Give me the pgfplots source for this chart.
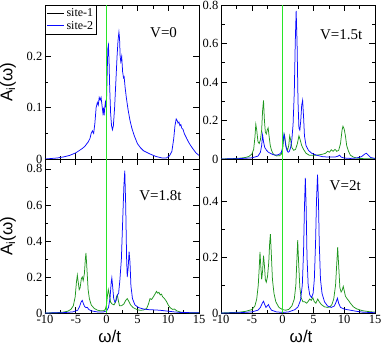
\documentclass[border=0pt]{standalone}
\usepackage{fontspec}
\setmainfont{Liberation Serif}
\setsansfont{Liberation Sans}
\usepackage{pgfplots}
\pgfplotsset{compat=1.18}
\definecolor{curvegreen}{RGB}{30,150,30}
\definecolor{curveblue}{RGB}{10,10,255}
\definecolor{zeroline}{RGB}{40,230,40}
\pgfplotsset{
  panel/.style={
    scale only axis, width=154pt, height=154pt,
    anchor=south west,
    xmin=-10, xmax=15, xtick={-10,-5,...,15}, minor x tick num=1,
    ymin=0, minor y tick num=1,
    tick align=inside,
    major tick length=6pt, minor tick length=3.5pt,
    axis line style={line width=0.7pt},
    every tick/.style={black, line width=0.6pt},
    ticklabel style={font=\fontsize{12.5}{12.5}\selectfont},
    xticklabel style={inner sep=2pt},
    yticklabel style={inner sep=2.5pt},
    /pgf/number format/assume math mode=true,
    label style={font=\sffamily\fontsize{17}{17}\selectfont},
    ylabel style={at={(axis description cs:-0.24,0.5)}, anchor=center},
    ylabel={A\textsubscript{i}(ω)},
  },
  grn/.style={curvegreen, line width=0.75pt},
  blu/.style={curveblue, line width=0.75pt},
  zl/.style={zeroline, line width=0.8pt},
}
\newcommand{\vtag}[3]{\node[anchor=east, font=\fontsize{15}{15}\selectfont] at (rel axis cs:#1,#2) {#3};}
\begin{document}
\begin{tikzpicture}
\path[use as bounding box] (0,0) rectangle (382pt,346pt);

% ---------- V = 0 ----------
\begin{axis}[panel, at={(45pt,187pt)}, ymax=0.3, ytick={0,0.1,0.2},
  xticklabels={},
  legend style={at={(0,1)}, anchor=north west, draw=black,
    font=\fontsize{12}{13}\selectfont, inner sep=1.5pt, row sep=-1pt,
    /tikz/every even column/.append style={column sep=4pt}},
  legend cell align=left]
\addlegendimage{black, line width=0.7pt}\addlegendentry{site-1}
\addlegendimage{blu}\addlegendentry{site-2}
\addplot[blu, forget plot] coordinates {
(-10,0) (-9,0.001) (-8,0.002) (-7,0.004) (-6,0.007) (-5,0.012) (-4.5,0.016)
(-4,0.02) (-3.5,0.025) (-3.2,0.03) (-3,0.033) (-2.7,0.04) (-2.5,0.05)
(-2.3,0.055) (-2.1,0.05) (-1.9,0.07) (-1.7,0.1) (-1.5,0.11) (-1.35,0.105)
(-1.2,0.12) (-1.05,0.115) (-0.9,0.12) (-0.75,0.105) (-0.6,0.09) (-0.5,0.1)
(-0.4,0.085) (-0.3,0.1) (-0.2,0.11) (-0.1,0.1) (0,0.12) (0.1,0.17) (0.2,0.215)
(0.3,0.222) (0.4,0.19) (0.5,0.14) (0.65,0.09) (0.8,0.065) (0.95,0.057)
(1.1,0.065) (1.3,0.1) (1.5,0.15) (1.7,0.2) (1.85,0.23) (2.0,0.247) (2.1,0.235)
(2.2,0.2) (2.3,0.19) (2.45,0.2) (2.6,0.17) (2.75,0.158) (2.85,0.16) (3.0,0.14)
(3.2,0.12) (3.5,0.095) (3.8,0.075) (4.1,0.06) (4.5,0.045) (5,0.03) (5.5,0.022)
(6,0.016) (7,0.01) (8,0.005) (9,0.002) (9.7,0.002) (10.2,0.006) (10.6,0.015)
(10.9,0.04) (11.1,0.065) (11.3,0.078) (11.45,0.075) (11.6,0.07) (11.75,0.072)
(11.9,0.065) (12.05,0.067) (12.2,0.06) (12.4,0.058) (12.6,0.05) (12.8,0.045)
(13.0,0.04) (13.3,0.033) (13.6,0.027) (14,0.02) (14.5,0.012) (15,0.007)};
\addplot[zl, forget plot] coordinates {(0,0) (0,1)};
\vtag{0.88}{0.82}{V=0}
\end{axis}

% ---------- V = 1.5t ----------
\begin{axis}[panel, at={(221pt,187pt)}, ymax=0.8, ytick={0,0.2,...,0.8},
  xticklabels={}, ylabel={}]
\addplot[grn] coordinates {
(-10,0) (-8,0.002) (-7,0.004) (-6,0.008) (-5.5,0.013) (-5,0.025) (-4.7,0.05)
(-4.5,0.11) (-4.35,0.18) (-4.2,0.15) (-4.0,0.09) (-3.8,0.08) (-3.6,0.1)
(-3.4,0.15) (-3.25,0.25) (-3.1,0.305) (-2.95,0.2) (-2.8,0.14) (-2.65,0.13)
(-2.5,0.15) (-2.35,0.162) (-2.2,0.12) (-2.0,0.07) (-1.8,0.045) (-1.5,0.025)
(-1.0,0.016) (-0.5,0.017) (-0.2,0.025) (0,0.05) (0.15,0.1) (0.3,0.125)
(0.45,0.09) (0.6,0.06) (0.8,0.045) (1.0,0.07) (1.15,0.12) (1.3,0.1) (1.5,0.06)
(1.8,0.045) (2.1,0.05) (2.4,0.08) (2.65,0.12) (2.85,0.1) (3.1,0.07) (3.4,0.05)
(3.8,0.03) (4.3,0.02) (5,0.02) (5.5,0.02) (6,0.022) (6.5,0.025) (7,0.03)
(7.3,0.04) (7.6,0.035) (7.9,0.048) (8.2,0.04) (8.5,0.05) (8.8,0.04) (9.1,0.045)
(9.4,0.08) (9.65,0.15) (9.8,0.17) (10.0,0.155) (10.2,0.12) (10.4,0.07)
(10.7,0.04) (11.0,0.02) (11.5,0.01) (12,0.005) (13,0.002) (15,0.001)};
\addplot[blu] coordinates {
(-10,0) (-7,0.002) (-5,0.006) (-4,0.015) (-3.6,0.035) (-3.4,0.07) (-3.25,0.125)
(-3.1,0.09) (-2.9,0.06) (-2.6,0.045) (-2.3,0.035) (-2,0.03) (-1.5,0.022)
(-1,0.02) (-0.5,0.025) (-0.2,0.035) (0,0.06) (0.1,0.1) (0.22,0.13) (0.35,0.11)
(0.5,0.07) (0.7,0.045) (0.9,0.035) (1.1,0.04) (1.3,0.06) (1.5,0.1) (1.7,0.18)
(1.9,0.35) (2.05,0.6) (2.2,0.77) (2.35,0.6) (2.5,0.3) (2.65,0.16) (2.8,0.15)
(2.95,0.2) (3.1,0.28) (3.25,0.305) (3.4,0.22) (3.55,0.12) (3.8,0.07)
(4.2,0.045) (4.7,0.03) (5.5,0.02) (6.5,0.012) (7.5,0.01) (8.5,0.01) (9.0,0.015)
(9.25,0.02) (9.5,0.01) (10,0.005) (11,0.003) (12,0.005) (12.8,0.012)
(13.3,0.025) (13.6,0.03) (13.9,0.02) (14.3,0.008) (15,0.003)};
\addplot[zl] coordinates {(0,0) (0,1)};
\vtag{0.94}{0.805}{V=1.5t}
\end{axis}

% ---------- V = 1.8t ----------
\begin{axis}[panel, at={(45pt,33pt)}, ymax=0.855, ytick={0,0.2,...,0.8},
  xlabel={ω/t}, xlabel style={at={(axis description cs:0.42,-0.155)}, anchor=center}]
\addplot[grn] coordinates {
(-10,0) (-8,0.002) (-7,0.005) (-6.3,0.01) (-5.8,0.02) (-5.4,0.04) (-5.1,0.09)
(-4.9,0.17) (-4.75,0.21) (-4.6,0.17) (-4.45,0.13) (-4.3,0.14) (-4.1,0.19)
(-3.95,0.2) (-3.8,0.18) (-3.6,0.22) (-3.45,0.3) (-3.35,0.333) (-3.2,0.25)
(-3.0,0.13) (-2.8,0.08) (-2.5,0.045) (-2.0,0.025) (-1.5,0.016) (-1,0.012)
(-0.5,0.012) (-0.2,0.02) (0,0.05) (0.15,0.1) (0.28,0.13) (0.45,0.1) (0.65,0.06)
(0.9,0.05) (1.2,0.045) (1.45,0.06) (1.6,0.09) (1.75,0.1) (1.9,0.07) (2.1,0.04)
(2.4,0.04) (2.8,0.05) (3.1,0.07) (3.35,0.08) (3.6,0.065) (3.9,0.045) (4.3,0.03)
(5.0,0.018) (5.5,0.015) (6.0,0.017) (6.5,0.025) (6.8,0.05) (7.05,0.08)
(7.3,0.075) (7.6,0.09) (7.85,0.105) (8.1,0.12) (8.3,0.11) (8.5,0.115) (8.7,0.1)
(8.9,0.105) (9.1,0.09) (9.4,0.08) (9.7,0.065) (10.0,0.045) (10.3,0.03)
(10.7,0.02) (11,0.022) (11.4,0.012) (12,0.005) (13,0.002) (15,0.001)};
\addplot[blu] coordinates {
(-10,0) (-7,0.002) (-5.5,0.006) (-4.7,0.015) (-4.4,0.035) (-4.15,0.06)
(-3.95,0.07) (-3.75,0.05) (-3.55,0.035) (-3.35,0.03) (-3.15,0.032) (-2.9,0.02)
(-2.5,0.012) (-1.5,0.006) (-0.5,0.006) (0,0.012) (0.3,0.03) (0.55,0.08)
(0.75,0.17) (0.85,0.195) (1.0,0.14) (1.15,0.08) (1.35,0.06) (1.55,0.07)
(1.75,0.1) (1.95,0.11) (2.15,0.18) (2.4,0.3) (2.6,0.5) (2.8,0.7) (2.95,0.79)
(3.1,0.6) (3.25,0.3) (3.35,0.2) (3.5,0.25) (3.65,0.34) (3.8,0.28) (3.95,0.15)
(4.2,0.08) (4.6,0.045) (5.2,0.03) (6,0.022) (7,0.018) (8,0.017) (9,0.014)
(10,0.01) (11,0.006) (12,0.003) (15,0.001)};
\addplot[zl] coordinates {(0,0) (0,1)};
\vtag{0.91}{0.76}{V=1.8t}
\end{axis}

% ---------- V = 2t ----------
\begin{axis}[panel, at={(221pt,33pt)}, ymax=0.55, ytick={0,0.2,0.4},
  ylabel={}, xlabel={ω/t}, xlabel style={at={(axis description cs:0.52,-0.155)}, anchor=center}]
\addplot[grn] coordinates {
(-10,0) (-8,0.002) (-7,0.003) (-6,0.006) (-5,0.012) (-4.5,0.025) (-4.2,0.05)
(-3.95,0.1) (-3.8,0.16) (-3.67,0.218) (-3.55,0.17) (-3.4,0.12) (-3.25,0.15)
(-3.1,0.205) (-2.95,0.17) (-2.8,0.12) (-2.65,0.11) (-2.45,0.13) (-2.25,0.18)
(-2.1,0.25) (-1.98,0.282) (-1.85,0.22) (-1.65,0.12) (-1.4,0.07) (-1.1,0.04)
(-0.6,0.02) (0,0.012) (0.5,0.01) (1.0,0.013) (1.5,0.025) (1.9,0.05) (2.15,0.1)
(2.3,0.18) (2.45,0.26) (2.6,0.18) (2.8,0.09) (3.0,0.055) (3.3,0.04) (3.6,0.04)
(3.9,0.035) (4.1,0.04) (4.4,0.05) (4.65,0.045) (4.9,0.055) (5.15,0.04)
(5.4,0.035) (5.7,0.05) (5.95,0.04) (6.3,0.03) (6.8,0.022) (7.3,0.02)
(7.7,0.022) (8.0,0.03) (8.3,0.05) (8.6,0.1) (8.8,0.18) (8.94,0.235) (9.1,0.17)
(9.3,0.09) (9.5,0.075) (9.65,0.08) (9.85,0.095) (10.0,0.08) (10.2,0.06)
(10.5,0.05) (10.7,0.045) (11,0.035) (11.5,0.022) (12,0.015) (13,0.008)
(14,0.005) (15,0.003)};
\addplot[blu] coordinates {
(-10,0) (-7,0.001) (-5,0.004) (-4,0.01) (-3.6,0.02) (-3.3,0.035) (-3.1,0.042)
(-2.9,0.03) (-2.7,0.02) (-2.5,0.025) (-2.3,0.03) (-2.1,0.02) (-1.8,0.01)
(-1,0.004) (0,0.002) (1,0.004) (2,0.012) (2.5,0.022) (2.9,0.045) (3.2,0.1)
(3.4,0.22) (3.55,0.38) (3.69,0.483) (3.82,0.38) (3.96,0.2) (4.15,0.1)
(4.4,0.065) (4.7,0.055) (4.95,0.07) (5.15,0.12) (5.35,0.25) (5.5,0.4)
(5.67,0.494) (5.82,0.4) (5.95,0.25) (6.15,0.12) (6.4,0.07) (6.8,0.04)
(7.3,0.025) (7.9,0.02) (8.4,0.025) (8.7,0.04) (8.9,0.053) (9.1,0.035)
(9.4,0.02) (10,0.014) (11,0.01) (12,0.006) (13,0.003) (15,0.001)};
\addplot[zl] coordinates {(0,0) (0,1)};
\vtag{0.93}{0.825}{V=2t}
\end{axis}
\end{tikzpicture}
\end{document}
